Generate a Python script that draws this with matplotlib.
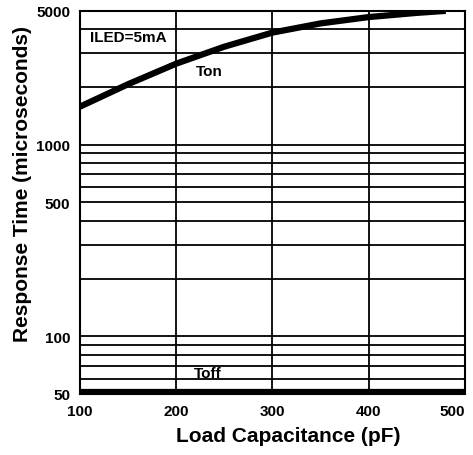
"""Response time vs load capacitance."""

import matplotlib.pyplot as plt
import numpy as np

plt.rcParams['font.family'] = ['Liberation Sans', 'DejaVu Sans']
plt.rcParams['font.weight'] = 'bold'

FIGSIZE = (4.73, 4.56)
DPI = 100

X_LABEL = 'Load Capacitance (pF)'
Y_LABEL = 'Response Time (microseconds)'

cap_on = [100, 150, 200, 250, 300, 350, 400, 450, 480]
t_on = [1580, 2070, 2650, 3250, 3850, 4300, 4640, 4880, 5000]
cap_off = [100, 500]
t_off = [51, 51]

x_ticks = [100, 200, 300, 400, 500]
y_ticks = [50, 100, 500, 1000, 5000]
y_grid = [50, 60, 70, 80, 90, 100, 200, 300, 400, 500, 600, 700, 800, 900,
          1000, 2000, 3000, 4000, 5000]


def main():
    fig = plt.figure(figsize=FIGSIZE, dpi=DPI)
    ax = fig.add_axes([0.169, 0.134, 0.814, 0.840])

    ax.set_yscale('log')
    ax.set_xlim(100, 500)
    ax.set_ylim(50, 5000)

    for v in y_grid:
        ax.axhline(v, color='black', lw=1.3, zorder=1)
    for v in x_ticks:
        ax.axvline(v, color='black', lw=1.3, zorder=1)

    ax.plot(cap_on, t_on, color='black', lw=4.5, solid_capstyle='butt', zorder=3)
    ax.plot(cap_off, t_off, color='black', lw=4.5, zorder=3)

    ax.text(110, 3660, 'ILED=5mA', fontsize=11, fontweight='bold',
            va='center', ha='left')
    ax.text(220, 2430, 'Ton', fontsize=11, fontweight='bold',
            va='center', ha='left')
    ax.text(218, 64, 'Toff', fontsize=11, fontweight='bold',
            va='center', ha='left')

    ax.set_xticks(x_ticks)
    ax.set_xticklabels([str(v) for v in x_ticks])
    ax.set_yticks(y_ticks)
    ax.set_yticklabels([str(v) for v in y_ticks])
    ax.minorticks_off()
    ax.tick_params(length=0, labelsize=11)
    ax.tick_params(axis='x', pad=7)
    ax.tick_params(axis='y', pad=7)
    for lab in ax.get_xticklabels() + ax.get_yticklabels():
        lab.set_fontweight('bold')
    xl = ax.get_xticklabels()
    xl[-1].set_horizontalalignment('right')

    for s in ax.spines.values():
        s.set_linewidth(1.5)

    ax.set_xlabel(X_LABEL, fontsize=15, fontweight='bold')
    ax.xaxis.set_label_coords(0.54, -0.083)
    ax.set_ylabel(Y_LABEL, fontsize=15, fontweight='bold')
    ax.yaxis.set_label_coords(-0.125, 0.551)

    fig.savefig('out.png', dpi=DPI)
    plt.close(fig)


if __name__ == '__main__':
    main()
